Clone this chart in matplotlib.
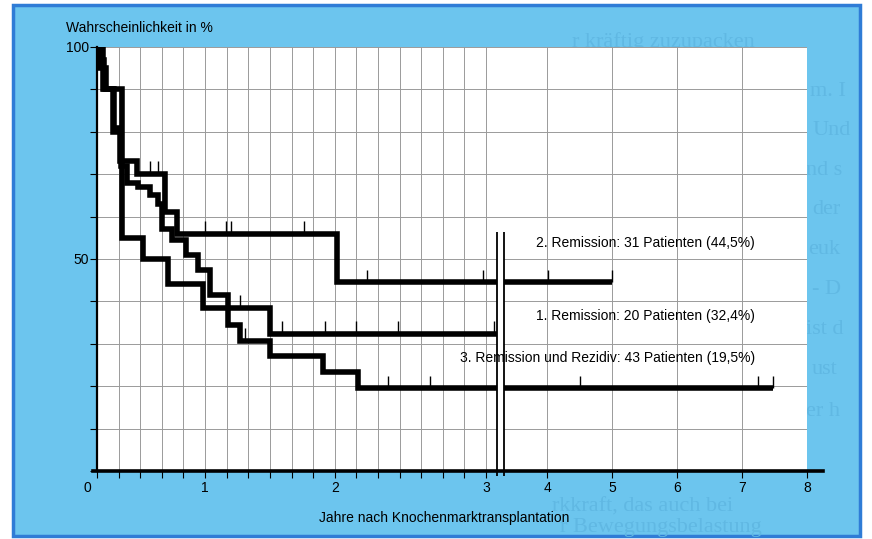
import matplotlib
matplotlib.use("Agg")
import matplotlib.pyplot as plt
import numpy as np
from matplotlib.patches import Rectangle
from matplotlib.lines import Line2D

# stretched scale for the first three years, compressed after the break
year_marks = [0, 1, 2, 3, 4, 5, 6, 7, 8]
year_pos = [0, 108, 238, 389, 450, 515, 580, 645, 710]

def fwd(x):
    return np.interp(x, year_marks, year_pos)

def inv(u):
    return np.interp(u, year_pos, year_marks)

# Kaplan-Meier steps (years, % surviving)
t_rem1 = [0, 0.06, 0.23, 0.43, 0.66, 0.98, 1.50]
s_rem1 = [100, 90, 55, 50, 44, 38.5, 32.4]
end_rem1 = 3.18
cens_rem1 = [1.27, 1.59, 1.92, 2.14, 2.42, 3.13]

t_rem2 = [0, 0.02, 0.065, 0.15, 0.21, 0.37, 0.63, 0.74, 2.01]
s_rem2 = [100, 97, 90, 80, 73, 70, 61, 56, 44.5]
end_rem2 = 5.0
cens_rem2 = [0.49, 0.565, 1.0, 1.16, 1.2, 1.76, 2.21, 2.98, 4.02, 5.0]

t_rem3 = [0, 0.028, 0.083, 0.157, 0.222, 0.278, 0.38, 0.49, 0.565, 0.60,
          0.694, 0.824, 0.935, 1.04, 1.18, 1.27, 1.5, 1.91, 2.15]
s_rem3 = [100, 95, 90, 81, 72, 68, 67, 65, 63, 57,
          54.5, 51, 47.5, 41.5, 34.5, 30.7, 27.1, 23.3, 19.5]
end_rem3 = 7.48
cens_rem3 = [1.31, 2.35, 2.63, 4.51, 7.25, 7.48]

labels = ["2. Remission: 31 Patienten (44,5%)",
          "1. Remission: 20 Patienten (32,4%)",
          "3. Remission und Rezidiv: 43 Patienten (19,5%)"]
label_y = [53.8, 36.6, 26.7]

year_labels = ["1", "2", "3", "4", "5", "6", "7", "8"]
year_ticks = [1, 2, 3, 4, 5, 6, 7, 8]

W, H = 872, 539
def fx(px):
    return px / W
def fy(py):
    return 1 - py / H

plt.rcParams['font.family'] = ['Liberation Sans', 'DejaVu Sans']

fig = plt.figure(figsize=(W / 100, H / 100), dpi=100)
fig.patch.set_facecolor('white')

# blue box behind the chart
fig.add_artist(Rectangle((fx(13), fy(536)), fx(860) - fx(13), fy(5) - fy(536),
                         transform=fig.transFigure, facecolor='#6cc5ee',
                         edgecolor='#2f7cd6', lw=2.5, zorder=-5))

# text from the page showing through
ghost = [("r kräftig zuzupacken", 572, 47), ("m. I", 810, 96), ("Und", 812, 135),
         ("nd s", 806, 175), ("der", 812, 214), ("euk", 808, 254), ("- D", 812, 294),
         ("ist d", 806, 334), ("ust", 812, 374), ("er h", 806, 416),
         ("rkkraft, das auch bei", 552, 512), ("r Bewegungsbelastung", 560, 532)]
for txt, gx, gy in ghost:
    fig.text(fx(gx), fy(gy), txt, family='Liberation Serif', fontsize=16,
             color='#60b8e3', ha='left', va='baseline', zorder=-4)

ax = fig.add_axes([fx(97), fy(471), fx(807) - fx(97), fy(47) - fy(471)])
ax.set_facecolor('white')
ax.set_xscale('function', functions=(fwd, inv))
ax.set_xlim(0, 8)
ax.set_ylim(0, 100)

# grid: 18 even steps up to year 3, then yearly
grid_u = [k * 389 / 18 for k in range(19)] + [450, 515, 580, 645, 710]
ax.set_xticks(inv(np.array(grid_u)))
ax.set_xticklabels([])
ax.set_yticks(range(0, 101, 10))
ax.set_yticklabels(["" if v not in (50, 100) else str(v) for v in range(0, 101, 10)])
ax.grid(True, color='#9a9a9a', lw=0.7)
ax.set_axisbelow(True)
ax.tick_params(axis='x', length=5, width=0.8, direction='out')
ax.tick_params(axis='y', length=5, width=0.8, direction='out', pad=1, labelsize=10)
for sp in ['top', 'right', 'bottom']:
    ax.spines[sp].set_visible(False)
ax.spines['left'].set_linewidth(1.6)

for yr, lab in zip(year_ticks, year_labels):
    ax.text(yr, -4, lab, ha='center', va='center', fontsize=10, clip_on=False)
fig.text(fx(87), fy(488), "0", ha='center', va='center', fontsize=10)

def km(t, s, end, cens):
    ax.step(t + [end], s + [s[-1]], where='post', color='black', lw=4.0,
            solid_joinstyle='miter', solid_capstyle='butt', zorder=2)
    idx = np.searchsorted(t, cens, side='right') - 1
    lev = np.array(s)[idx]
    ax.vlines(cens, lev, lev + 3, color='black', lw=1.0, zorder=2)

km(t_rem1, s_rem1, end_rem1, cens_rem1)
km(t_rem2, s_rem2, end_rem2, cens_rem2)
km(t_rem3, s_rem3, end_rem3, cens_rem3)

# axis break
ax.axvspan(3.18, 3.295, ymin=0, ymax=0.555, color='white', lw=0, zorder=3)
ax.vlines([3.18, 3.295], -1.2, 56.4, color='black', lw=1.3, zorder=4, clip_on=False)

ax.add_line(Line2D([-0.006, 1.023], [0, 0], transform=ax.transAxes, color='black',
                   lw=2.6, clip_on=False, zorder=5))

for lab, ly in zip(labels, label_y):
    ax.text(7.2, ly, lab, ha='right', va='center', fontsize=10, zorder=6)

fig.text(fx(66), fy(28), "Wahrscheinlichkeit in %", ha='left', va='center', fontsize=10)
fig.text(fx(444), fy(518), "Jahre nach Knochenmarktransplantation", ha='center',
         va='center', fontsize=10)

fig.savefig("out.png", dpi=100)
